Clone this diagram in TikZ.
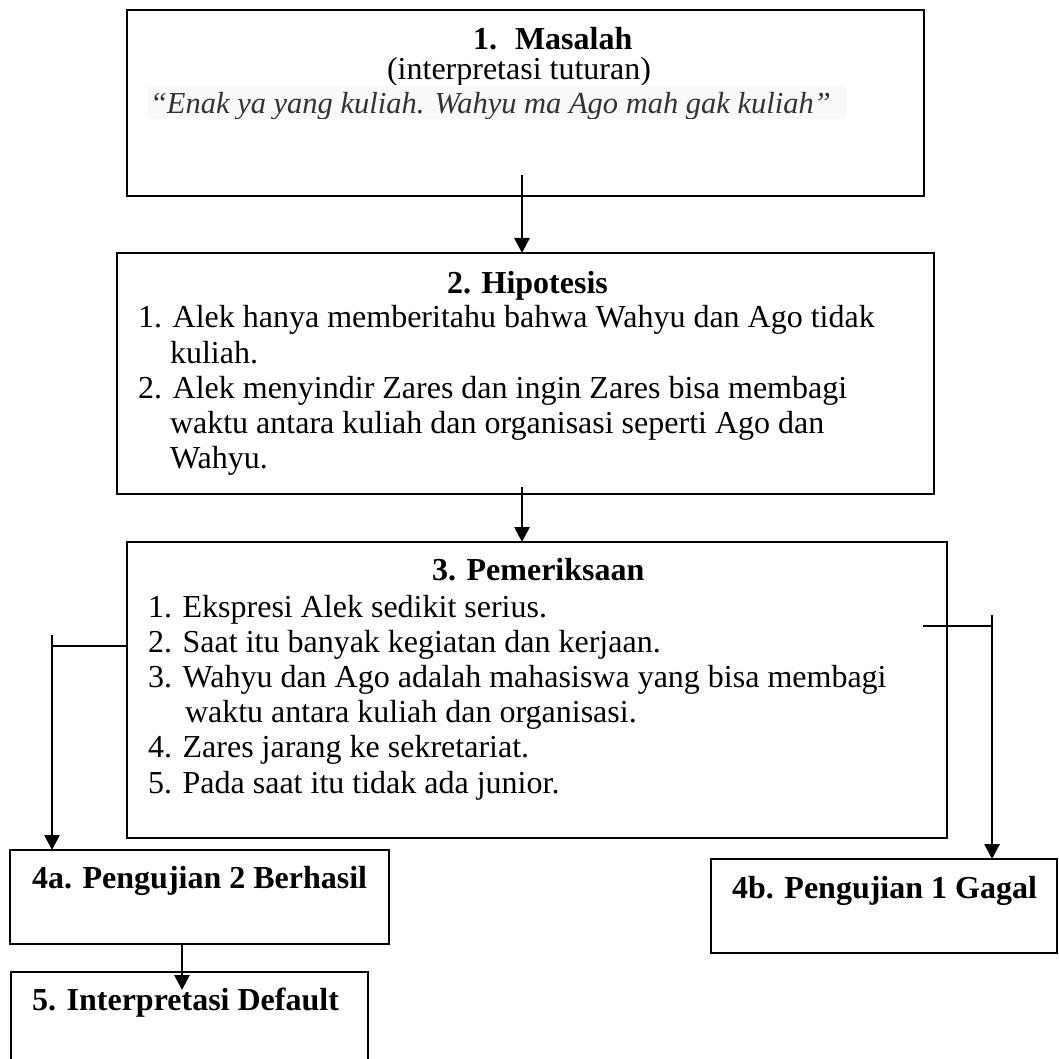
\documentclass[tikz,border=0pt]{standalone}
\usepackage{fontspec}
\setmainfont{Liberation Serif}
\usetikzlibrary{arrows.meta}
\newcommand\fsz{\fontsize{32}{35}\selectfont}
\newcommand\fsq{\fontsize{30.5}{35}\selectfont}
\begin{document}
\begin{tikzpicture}[x=1pt,y=-1pt,
  box/.style={draw, line width=2.3pt, inner sep=0pt, outer sep=0pt, anchor=north west},
  conn/.style={line width=2.7pt},
  arr/.style={conn, -{Triangle[width=15pt,length=15pt]}},
  txt/.style={anchor=base west, inner sep=0pt, outer sep=0pt, font=\fsz},
  hd/.style={txt, font=\fsz\bfseries}]
\useasboundingbox (0,0) rectangle (1059,1059);
\clip (0,0) rectangle (1059,1059);
% boxes
\node[box, minimum width=797pt, minimum height=186pt] (b1) at (127,10) {};
\node[box, minimum width=817pt, minimum height=241pt] (b2) at (117,253) {};
\node[box, minimum width=820pt, minimum height=296pt] (b3) at (127,542) {};
\node[box, minimum width=379pt, minimum height=94pt] (b4a) at (10,850) {};
\node[box, minimum width=346pt, minimum height=94pt] (b4b) at (711,859) {};
\node[box, minimum width=357pt, minimum height=120pt] (b5) at (11,972) {};
% box 1 text
\node[hd] (t1n) at (473,50) {1.};
\node[hd] (t1) at (515,50) {Masalah};
\node[txt, anchor=base] (t1s) at (519,80) {(interpretasi tuturan)};
\begin{scope}
  \clip (148,85) rectangle (846,119);
  \fill[gray!5] (148,85) rectangle (846,119);
  \node[txt, font=\fsq\itshape, text=black!80] (q) at (150,114) {“Enak ya yang kuliah. Wahyu ma Ago mah gak kuliah”};
\end{scope}
% box 2 text
\node[hd] (t2) at (447,293) {2. Hipotesis};
\node[txt] (h1) at (138,327) {1. Alek hanya memberitahu bahwa Wahyu dan Ago tidak};
\node[txt] (h1b) at (170,363) {kuliah.};
\node[txt] (h2) at (138,398) {2. Alek menyindir Zares dan ingin Zares bisa membagi};
\node[txt] (h2b) at (170,433) {waktu antara kuliah dan organisasi seperti Ago dan};
\node[txt] (h2c) at (170,468) {Wahyu.};
% box 3 text
\node[hd] (t3) at (432,580) {3. Pemeriksaan};
\node[txt] (p1) at (148,617) {1. Ekspresi Alek sedikit serius.};
\node[txt] (p2) at (148,652) {2. Saat itu banyak kegiatan dan kerjaan.};
\node[txt] (p3) at (148,687) {3. Wahyu dan Ago adalah mahasiswa yang bisa membagi};
\node[txt] (p3b) at (185,722) {waktu antara kuliah dan organisasi.};
\node[txt] (p4) at (148,757) {4. Zares jarang ke sekretariat.};
\node[txt] (p5) at (148,793) {5. Pada saat itu tidak ada junior.};
% lower boxes text
\node[hd] (t4a) at (32,888) {4a. Pengujian 2 Berhasil};
\node[hd] (t4b) at (732,898) {4b. Pengujian 1 Gagal};
\node[hd] (t5) at (32,1010) {5. Interpretasi Default};
% connectors
\coordinate (a1) at (522,175);
\draw[arr] (a1) -- (a1 |- b2.north);
\coordinate (a2) at (522,487);
\draw[arr] (a2) -- (a2 |- b3.north);
\coordinate (lh) at (52,646);
\coordinate (lv) at (52,635);
\draw[conn] (b3.west |- lh) -- (lh);
\draw[arr] (lv) -- (lv |- b4a.north);
\coordinate (rh) at (923,626);
\coordinate (rv) at (992,615);
\draw[conn] (rh) -- (rv |- rh);
\draw[arr] (rv) -- (rv |- b4b.north);
\coordinate (a5) at (182,990);
\draw[arr] (a5 |- b4a.south) -- (a5);
\end{tikzpicture}
\end{document}
